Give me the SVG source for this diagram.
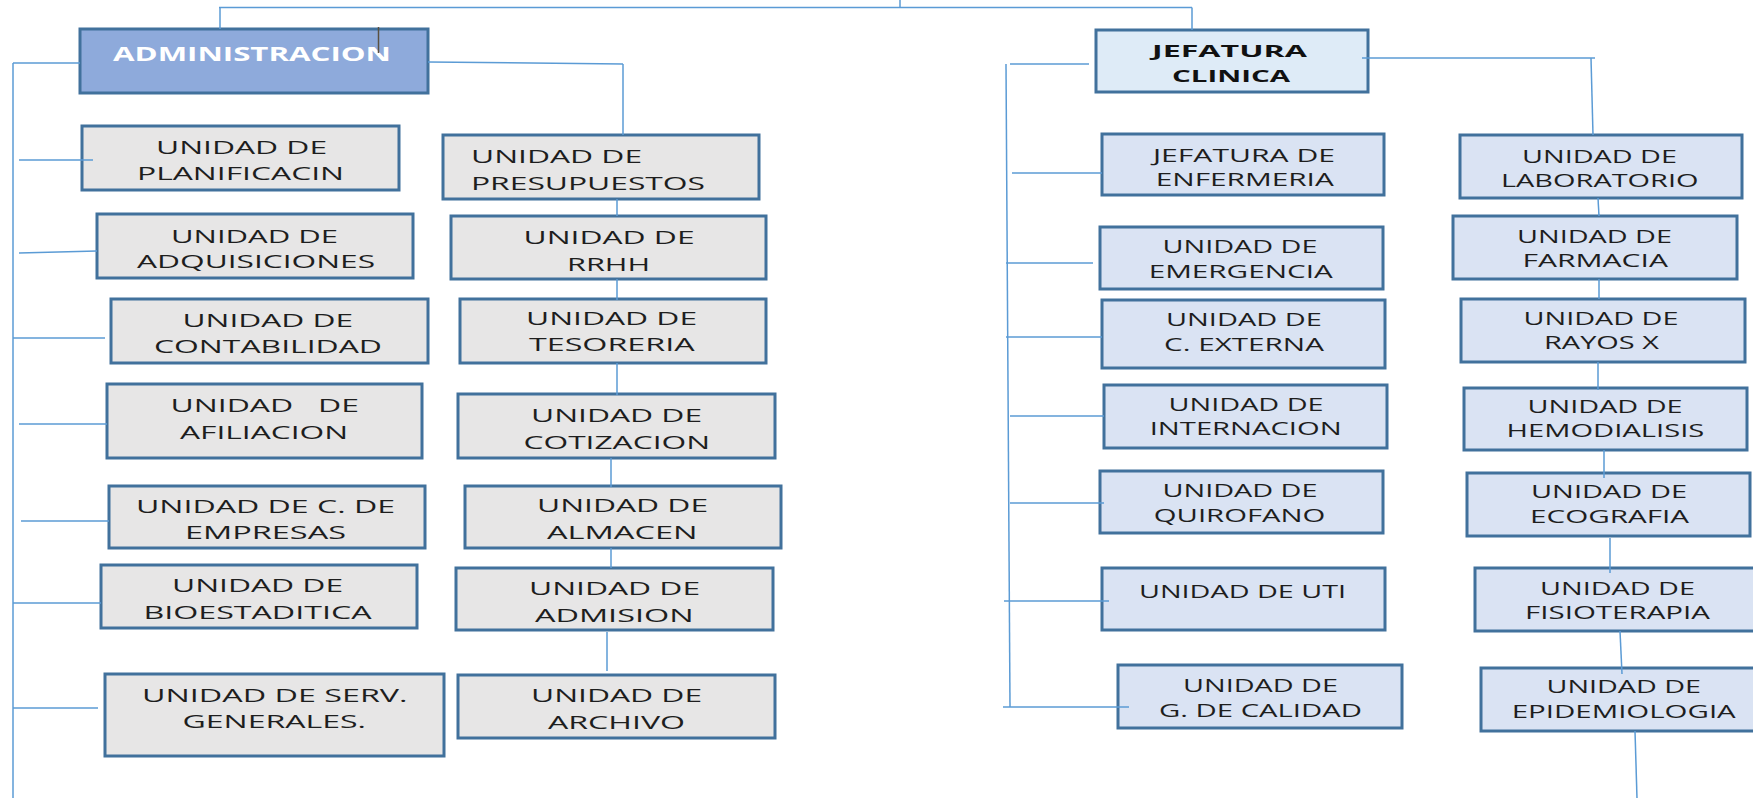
<svg xmlns="http://www.w3.org/2000/svg" width="1753" height="798" viewBox="0 0 1753 798">
<style>
.bx{stroke:#41719c;stroke-width:3}
.gr{fill:#e7e6e6}
.bl{fill:#dae3f3}
.t{font-family:"Open Sans","Liberation Sans",sans-serif;font-size:19px;fill:#1e1e1e}
.hb{font-family:"Open Sans","Liberation Sans",sans-serif;font-weight:bold}
.c line{stroke:#5b9bd5;stroke-width:1.5;fill:none}
</style>
<rect width="1753" height="798" fill="#ffffff"/>
<g id="n-admin">
<rect class="bx" x="80" y="29" width="348" height="64" fill="#8eaadb"/>
<text class="hb" transform="translate(113 0) scale(1.6 1)" x="0" y="60.7" font-size="18.7" fill="#ffffff" textLength="173.75" lengthAdjust="spacingAndGlyphs">ADMINISTRACION</text>
<line x1="378.5" y1="27" x2="378.5" y2="53" stroke="#5a5040" stroke-width="1.5"/>
</g>
<g id="n-jefatura">
<rect class="bx" x="1096" y="30" width="272" height="62" fill="#deebf7"/>
<text class="hb" font-size="16.5" fill="#111" transform="translate(1152 0) scale(1.8 1)" x="0" y="56.7" textLength="86.1" lengthAdjust="spacingAndGlyphs">JEFATURA</text>
<text class="hb" font-size="16.5" fill="#111" transform="translate(1172 0) scale(1.8 1)" x="0" y="82.3" textLength="65.6" lengthAdjust="spacingAndGlyphs">CLINICA</text>
</g>
<g id="n-planif"><rect class="bx gr" x="82" y="126" width="317" height="64"/><text class="t" transform="translate(156 0) scale(1.6 1)" x="0" y="154" textLength="106.9" lengthAdjust="spacingAndGlyphs">UNIDAD DE</text><text class="t" transform="translate(137 0) scale(1.6 1)" x="0" y="180" textLength="129.4" lengthAdjust="spacingAndGlyphs">PLANIFICACIN</text></g>
<g id="n-adq"><rect class="bx gr" x="97" y="214" width="316" height="64"/><text class="t" transform="translate(171 0) scale(1.6 1)" x="0" y="243" textLength="104.4" lengthAdjust="spacingAndGlyphs">UNIDAD DE</text><text class="t" transform="translate(137 0) scale(1.6 1)" x="0" y="268" textLength="148.75" lengthAdjust="spacingAndGlyphs">ADQUISICIONES</text></g>
<g id="n-cont"><rect class="bx gr" x="111" y="299" width="317" height="64"/><text class="t" transform="translate(182.5 0) scale(1.6 1)" x="0" y="327" textLength="106.6" lengthAdjust="spacingAndGlyphs">UNIDAD DE</text><text class="t" transform="translate(154 0) scale(1.6 1)" x="0" y="353" textLength="142.5" lengthAdjust="spacingAndGlyphs">CONTABILIDAD</text></g>
<g id="n-afil"><rect class="bx gr" x="107" y="384" width="315" height="74"/><text class="t" transform="translate(170.5 0) scale(1.6 1)" x="0" y="412" textLength="117.8" lengthAdjust="spacingAndGlyphs" xml:space="preserve" style="white-space:pre">UNIDAD   DE</text><text class="t" transform="translate(180 0) scale(1.6 1)" x="0" y="439" textLength="105" lengthAdjust="spacingAndGlyphs">AFILIACION</text></g>
<g id="n-emp"><rect class="bx gr" x="109" y="486" width="316" height="62"/><text class="t" transform="translate(136 0) scale(1.6 1)" x="0" y="513" textLength="161.9" lengthAdjust="spacingAndGlyphs">UNIDAD DE C. DE</text><text class="t" transform="translate(185 0) scale(1.6 1)" x="0" y="539" textLength="100.6" lengthAdjust="spacingAndGlyphs">EMPRESAS</text></g>
<g id="n-bio"><rect class="bx gr" x="101" y="565" width="316" height="63"/><text class="t" transform="translate(172 0) scale(1.6 1)" x="0" y="592" textLength="106.9" lengthAdjust="spacingAndGlyphs">UNIDAD DE</text><text class="t" transform="translate(143.5 0) scale(1.6 1)" x="0" y="619" textLength="142.5" lengthAdjust="spacingAndGlyphs">BIOESTADITICA</text></g>
<g id="n-serv"><rect class="bx gr" x="105" y="674" width="339" height="82"/><text class="t" transform="translate(142 0) scale(1.6 1)" x="0" y="702" textLength="166" lengthAdjust="spacingAndGlyphs">UNIDAD DE SERV.</text><text class="t" transform="translate(182.5 0) scale(1.6 1)" x="0" y="728" textLength="114.7" lengthAdjust="spacingAndGlyphs">GENERALES.</text></g>
<g id="n-presu"><rect class="bx gr" x="443" y="135" width="316" height="64"/><text class="t" transform="translate(471 0) scale(1.6 1)" x="0" y="163" textLength="106.9" lengthAdjust="spacingAndGlyphs">UNIDAD DE</text><text class="t" transform="translate(471 0) scale(1.6 1)" x="0" y="190" textLength="146.25" lengthAdjust="spacingAndGlyphs">PRESUPUESTOS</text></g>
<g id="n-rrhh"><rect class="bx gr" x="451" y="216" width="315" height="63"/><text class="t" transform="translate(523.5 0) scale(1.6 1)" x="0" y="244" textLength="106.9" lengthAdjust="spacingAndGlyphs">UNIDAD DE</text><text class="t" transform="translate(567 0) scale(1.6 1)" x="0" y="271" textLength="51.9" lengthAdjust="spacingAndGlyphs">RRHH</text></g>
<g id="n-teso"><rect class="bx gr" x="460" y="299" width="306" height="64"/><text class="t" transform="translate(526 0) scale(1.6 1)" x="0" y="325.5" textLength="106.9" lengthAdjust="spacingAndGlyphs">UNIDAD DE</text><text class="t" transform="translate(529 0) scale(1.6 1)" x="0" y="351.5" textLength="103.5" lengthAdjust="spacingAndGlyphs">TESORERIA</text></g>
<g id="n-coti"><rect class="bx gr" x="458" y="394" width="317" height="64"/><text class="t" transform="translate(531 0) scale(1.6 1)" x="0" y="422" textLength="106.9" lengthAdjust="spacingAndGlyphs">UNIDAD DE</text><text class="t" transform="translate(523.5 0) scale(1.6 1)" x="0" y="449" textLength="116.6" lengthAdjust="spacingAndGlyphs">COTIZACION</text></g>
<g id="n-alma"><rect class="bx gr" x="465" y="486" width="316" height="62"/><text class="t" transform="translate(537 0) scale(1.6 1)" x="0" y="512" textLength="106.9" lengthAdjust="spacingAndGlyphs">UNIDAD DE</text><text class="t" transform="translate(547 0) scale(1.6 1)" x="0" y="539" textLength="94.1" lengthAdjust="spacingAndGlyphs">ALMACEN</text></g>
<g id="n-admis"><rect class="bx gr" x="456" y="568" width="317" height="62"/><text class="t" transform="translate(529 0) scale(1.6 1)" x="0" y="595" textLength="106.9" lengthAdjust="spacingAndGlyphs">UNIDAD DE</text><text class="t" transform="translate(535 0) scale(1.6 1)" x="0" y="621.7" textLength="99.1" lengthAdjust="spacingAndGlyphs">ADMISION</text></g>
<g id="n-arch"><rect class="bx gr" x="458" y="675" width="317" height="63"/><text class="t" transform="translate(531 0) scale(1.6 1)" x="0" y="702" textLength="106.9" lengthAdjust="spacingAndGlyphs">UNIDAD DE</text><text class="t" transform="translate(548 0) scale(1.6 1)" x="0" y="729" textLength="85.6" lengthAdjust="spacingAndGlyphs">ARCHIVO</text></g>
<g id="n-enf"><rect class="bx bl" x="1102" y="134" width="282" height="61"/><text class="t" transform="translate(1153 0) scale(1.45 1)" x="0" y="162" textLength="125.5" lengthAdjust="spacingAndGlyphs">JEFATURA DE</text><text class="t" transform="translate(1155.7 0) scale(1.45 1)" x="0" y="186" textLength="122.8" lengthAdjust="spacingAndGlyphs">ENFERMERIA</text></g>
<g id="n-emer"><rect class="bx bl" x="1100" y="227" width="283" height="62"/><text class="t" transform="translate(1162.5 0) scale(1.45 1)" x="0" y="253" textLength="106.9" lengthAdjust="spacingAndGlyphs">UNIDAD DE</text><text class="t" transform="translate(1148.7 0) scale(1.45 1)" x="0" y="278" textLength="126.9" lengthAdjust="spacingAndGlyphs">EMERGENCIA</text></g>
<g id="n-cext"><rect class="bx bl" x="1102" y="300" width="283" height="68"/><text class="t" transform="translate(1166 0) scale(1.45 1)" x="0" y="326.5" textLength="107.4" lengthAdjust="spacingAndGlyphs">UNIDAD DE</text><text class="t" transform="translate(1164 0) scale(1.45 1)" x="0" y="351" textLength="110.3" lengthAdjust="spacingAndGlyphs">C. EXTERNA</text></g>
<g id="n-inter"><rect class="bx bl" x="1104" y="385" width="283" height="63"/><text class="t" transform="translate(1168.6 0) scale(1.45 1)" x="0" y="411" textLength="106.9" lengthAdjust="spacingAndGlyphs">UNIDAD DE</text><text class="t" transform="translate(1149.7 0) scale(1.45 1)" x="0" y="435" textLength="132.4" lengthAdjust="spacingAndGlyphs">INTERNACION</text></g>
<g id="n-quir"><rect class="bx bl" x="1100" y="471" width="283" height="62"/><text class="t" transform="translate(1162.5 0) scale(1.45 1)" x="0" y="497" textLength="106.9" lengthAdjust="spacingAndGlyphs">UNIDAD DE</text><text class="t" transform="translate(1153.8 0) scale(1.45 1)" x="0" y="521.7" textLength="118.3" lengthAdjust="spacingAndGlyphs">QUIROFANO</text></g>
<g id="n-uti"><rect class="bx bl" x="1102" y="568" width="283" height="62"/><text class="t" transform="translate(1139 0) scale(1.45 1)" x="0" y="598" textLength="142.8" lengthAdjust="spacingAndGlyphs">UNIDAD DE UTI</text></g>
<g id="n-cal"><rect class="bx bl" x="1118" y="665" width="284" height="63"/><text class="t" transform="translate(1183 0) scale(1.45 1)" x="0" y="691.7" textLength="106.9" lengthAdjust="spacingAndGlyphs">UNIDAD DE</text><text class="t" transform="translate(1159 0) scale(1.45 1)" x="0" y="716.7" textLength="140" lengthAdjust="spacingAndGlyphs">G. DE CALIDAD</text></g>
<g id="n-lab"><rect class="bx bl" x="1460" y="135" width="282" height="63"/><text class="t" transform="translate(1522 0) scale(1.45 1)" x="0" y="163" textLength="106.9" lengthAdjust="spacingAndGlyphs">UNIDAD DE</text><text class="t" transform="translate(1501 0) scale(1.45 1)" x="0" y="186.7" textLength="136.2" lengthAdjust="spacingAndGlyphs">LABORATORIO</text></g>
<g id="n-farm"><rect class="bx bl" x="1453" y="216" width="284" height="63"/><text class="t" transform="translate(1517 0) scale(1.45 1)" x="0" y="243.3" textLength="106.9" lengthAdjust="spacingAndGlyphs">UNIDAD DE</text><text class="t" transform="translate(1522.5 0) scale(1.45 1)" x="0" y="267.3" textLength="100.3" lengthAdjust="spacingAndGlyphs">FARMACIA</text></g>
<g id="n-rayos"><rect class="bx bl" x="1461" y="299" width="284" height="63"/><text class="t" transform="translate(1523.5 0) scale(1.45 1)" x="0" y="325.3" textLength="106.9" lengthAdjust="spacingAndGlyphs">UNIDAD DE</text><text class="t" transform="translate(1544 0) scale(1.45 1)" x="0" y="349.3" textLength="79.3" lengthAdjust="spacingAndGlyphs">RAYOS X</text></g>
<g id="n-hemo"><rect class="bx bl" x="1464" y="388" width="283" height="62"/><text class="t" transform="translate(1527.6 0) scale(1.45 1)" x="0" y="412.7" textLength="106.9" lengthAdjust="spacingAndGlyphs">UNIDAD DE</text><text class="t" transform="translate(1506.6 0) scale(1.45 1)" x="0" y="437.3" textLength="136.3" lengthAdjust="spacingAndGlyphs">HEMODIALISIS</text></g>
<g id="n-eco"><rect class="bx bl" x="1467" y="473" width="283" height="63"/><text class="t" transform="translate(1531 0) scale(1.45 1)" x="0" y="498.3" textLength="107.6" lengthAdjust="spacingAndGlyphs">UNIDAD DE</text><text class="t" transform="translate(1530 0) scale(1.45 1)" x="0" y="522.7" textLength="109.7" lengthAdjust="spacingAndGlyphs">ECOGRAFIA</text></g>
<g id="n-fisio"><rect class="bx bl" x="1475" y="568" width="285" height="63"/><text class="t" transform="translate(1540 0) scale(1.45 1)" x="0" y="595" textLength="106.9" lengthAdjust="spacingAndGlyphs">UNIDAD DE</text><text class="t" transform="translate(1525 0) scale(1.45 1)" x="0" y="619.3" textLength="127.6" lengthAdjust="spacingAndGlyphs">FISIOTERAPIA</text></g>
<g id="n-epi"><rect class="bx bl" x="1481" y="668" width="286" height="63"/><text class="t" transform="translate(1546.5 0) scale(1.45 1)" x="0" y="693.3" textLength="106.6" lengthAdjust="spacingAndGlyphs">UNIDAD DE</text><text class="t" transform="translate(1511.7 0) scale(1.45 1)" x="0" y="718.3" textLength="154.5" lengthAdjust="spacingAndGlyphs">EPIDEMIOLOGIA</text></g>
<g id="connectors" class="c">
<line x1="219" y1="7.5" x2="1192" y2="7.5"/>
<line x1="900" y1="0" x2="900" y2="7.5"/>
<line x1="220" y1="7.5" x2="220" y2="29"/>
<line x1="1192" y1="7.5" x2="1192" y2="30"/>
<line x1="13" y1="63" x2="80" y2="63"/>
<line x1="13" y1="63" x2="13" y2="798"/>
<line x1="19" y1="160" x2="93" y2="160"/>
<line x1="19" y1="253" x2="97" y2="251"/>
<line x1="13" y1="338" x2="105" y2="338"/>
<line x1="19" y1="424" x2="107" y2="424"/>
<line x1="21" y1="521" x2="109" y2="521"/>
<line x1="13" y1="603" x2="101" y2="603"/>
<line x1="13" y1="708" x2="98" y2="708"/>
<line x1="428" y1="62" x2="623" y2="64"/>
<line x1="623" y1="64" x2="623" y2="135"/>
<line x1="617" y1="199" x2="617" y2="216"/>
<line x1="617" y1="279" x2="617" y2="300"/>
<line x1="617" y1="363" x2="617" y2="395"/>
<line x1="611" y1="458" x2="611" y2="487"/>
<line x1="611" y1="548" x2="611" y2="568"/>
<line x1="607" y1="632" x2="607" y2="671"/>
<line x1="1010" y1="64" x2="1089" y2="64"/>
<line x1="1006" y1="64" x2="1010" y2="707"/>
<line x1="1012" y1="173" x2="1102" y2="173"/>
<line x1="1006" y1="263" x2="1093" y2="263"/>
<line x1="1006" y1="337" x2="1102" y2="337"/>
<line x1="1010" y1="416" x2="1104" y2="416"/>
<line x1="1010" y1="503" x2="1104" y2="503"/>
<line x1="1004" y1="601" x2="1109" y2="601"/>
<line x1="1003" y1="707" x2="1129" y2="707"/>
<line x1="1362" y1="58" x2="1595" y2="58"/>
<line x1="1591" y1="58" x2="1593" y2="135"/>
<line x1="1598" y1="198" x2="1599" y2="216"/>
<line x1="1599" y1="279" x2="1599" y2="299"/>
<line x1="1598" y1="362" x2="1598" y2="390"/>
<line x1="1604" y1="450" x2="1604" y2="478"/>
<line x1="1610" y1="538" x2="1610" y2="573"/>
<line x1="1620" y1="631" x2="1622" y2="674"/>
<line x1="1635" y1="731" x2="1637" y2="798"/>
</g>
</svg>
